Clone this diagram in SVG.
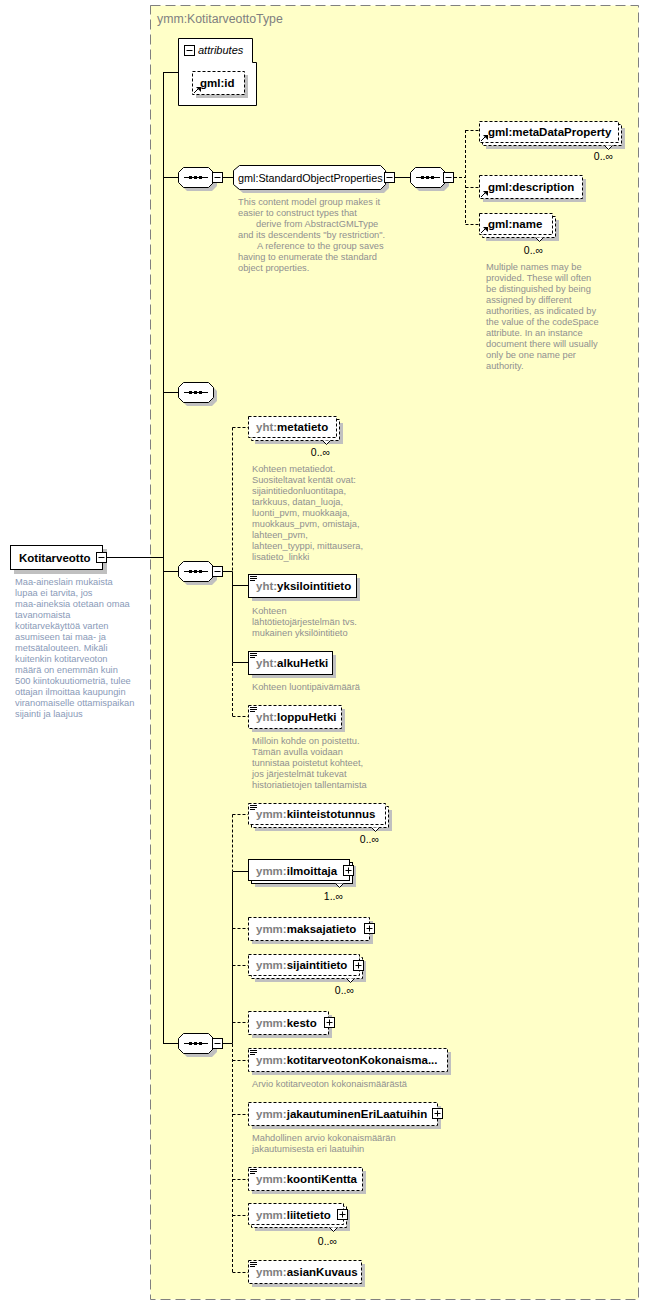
<svg xmlns="http://www.w3.org/2000/svg" xmlns:xlink="http://www.w3.org/1999/xlink" width="649" height="1306" viewBox="0 0 649 1306">
<style>
.bx{fill:#fff;stroke:#000;stroke-width:1}
.db{fill:#fff;stroke:#000;stroke-width:1;stroke-dasharray:3,2}
.sh{fill:#c0c0c0;stroke:none}
.ln{stroke:#000;stroke-width:1;fill:none}
.dl{stroke:#000;stroke-width:1;fill:none;stroke-dasharray:3,2}
.nm{font-family:"Liberation Sans",Arial,sans-serif;font-size:11.5px;font-weight:bold;fill:#000}
.pf{fill:#808080}
.ds{font-family:"Liberation Sans",Arial,sans-serif;font-size:9.3px;fill:#909090}
.dsl{font-family:"Liberation Sans",Arial,sans-serif;font-size:9.3px;fill:#8a9ab8}
.oc{font-family:"Liberation Sans",Arial,sans-serif;font-size:10.5px;fill:#000}
.ttl{font-family:"Liberation Sans",Arial,sans-serif;font-size:12.3px;fill:#808080}
</style>
<defs>
<g id="seq">
<polygon class="sh" points="9,4 34,4 39,9 39,19 34,24 9,24 4,19 4,9"/>
<polygon class="bx" points="5.5,0.5 30.5,0.5 35.5,5.5 35.5,15.5 30.5,20.5 5.5,20.5 0.5,15.5 0.5,5.5"/>
<path class="ln" d="M6,10.5 H30"/>
<rect x="11" y="9" width="3" height="3" fill="#000"/>
<rect x="16" y="9" width="3" height="3" fill="#000"/>
<rect x="21" y="9" width="3" height="3" fill="#000"/>
</g>
<g id="minus">
<rect class="bx" x="0.5" y="0.5" width="10" height="10"/>
<path class="ln" d="M2.5,5.5 H8.5"/>
</g>
<g id="plus">
<rect class="bx" x="0.5" y="0.5" width="10" height="10"/>
<path class="ln" d="M2.5,5.5 H8.5 M5.5,2.5 V8.5"/>
</g>
<g id="refarrow">
<path class="ln" d="M1,8 L5,4" stroke-width="1.3"/>
<path d="M3,2 H8 V7 Z" fill="#000"/>
</g>
<g id="simple">
<path class="ln" d="M0,0.5 H7 M0,2.5 H7 M0,4.5 H5"/>
</g>
</defs>

<rect id="container" x="150.5" y="5.5" width="488" height="1294" fill="#ffffc8" stroke="#808080" stroke-width="1" stroke-dasharray="10,5"/>
<text class="ttl" x="157" y="23">ymm:KotitarveottoType</text>

<g id="connectors">
<path class="ln" d="M163.5,72 V1043.5 M163,72.5 H178 M107,557.5 H163 M163,177.5 H178 M163,392.5 H178 M163,571.5 H178 M163,1043.5 H178"/>
<path class="ln" d="M223,177.5 H233 M395,177.5 H410"/>
<path class="dl" d="M454,177.5 H465.5 M465.5,130 V224.5 M465.5,130.5 H479 M465.5,187.5 H479 M465.5,224.5 H479"/>
<path class="ln" d="M223,571.5 H232.5 M232.5,571.5 V662.5 M232.5,585.5 H248 M232.5,662.5 H248"/>
<path class="dl" d="M232.5,427.5 V571 M232.5,427.5 H248 M232.5,663 V716.5 M232.5,716.5 H248"/>
<path class="ln" d="M223,1043.5 H232.5 M232.5,871.5 V1043.5 M232.5,871.5 H248"/>
<path class="dl" d="M232.5,814.5 V871 M232.5,814.5 H248 M232.5,1044 V1272.5 M232.5,928.5 H248 M232.5,965.5 H248 M232.5,1022.5 H248 M232.5,1060.5 H248 M232.5,1114.5 H248 M232.5,1179.5 H248 M232.5,1215.5 H248 M232.5,1272.5 H248"/>
</g>

<g id="kotitarveotto">
<rect class="sh" x="14" y="549" width="93" height="25"/>
<rect class="bx" x="10.5" y="545.5" width="92" height="24"/>
<text class="nm" x="19" y="562" font-size="12.3px">Kotitarveotto</text>
<use xlink:href="#minus" x="96" y="552"/>
<text class="dsl">
<tspan x="15" y="585">Maa-aineslain mukaista</tspan>
<tspan x="15" y="596">lupaa ei tarvita, jos</tspan>
<tspan x="15" y="607">maa-aineksia otetaan omaa</tspan>
<tspan x="15" y="618">tavanomaista</tspan>
<tspan x="15" y="629">kotitarvekäyttöä varten</tspan>
<tspan x="15" y="640">asumiseen tai maa- ja</tspan>
<tspan x="15" y="651">metsätalouteen. Mikäli</tspan>
<tspan x="15" y="662">kuitenkin kotitarveoton</tspan>
<tspan x="15" y="673">määrä on enemmän kuin</tspan>
<tspan x="15" y="684">500 kiintokuutiometriä, tulee</tspan>
<tspan x="15" y="695">ottajan ilmoittaa kaupungin</tspan>
<tspan x="15" y="706">viranomaiselle ottamispaikan</tspan>
<tspan x="15" y="717">sijainti ja laajuus</tspan>
</text>
</g>

<g id="attributes">
<path class="bx" d="M178.5,38.5 H252.5 V62.5 H256.5 V105.5 H178.5 Z"/>
<use xlink:href="#minus" x="184" y="45"/>
<text x="198" y="54" font-family="'Liberation Sans',Arial,sans-serif" font-size="11px" font-style="italic">attributes</text>
</g>
<g id="gml-id">
<rect class="sh" x="196" y="75" width="52" height="23"/>
<rect class="db" x="192.5" y="71.5" width="52" height="23"/>
<use xlink:href="#refarrow" x="193" y="85"/>
<text class="nm" x="200" y="87">gml:id</text>
</g>

<g id="seq1">
<use xlink:href="#seq" x="178" y="167"/>
<use xlink:href="#minus" x="212" y="172"/>
</g>
<g id="standardObjectProperties">
<polygon class="sh" points="243,169 384,169 389,174 389,188 384,193 243,193 237,188 237,174"/>
<polygon class="bx" points="239.5,165.5 380.5,165.5 385.5,170.5 385.5,184.5 380.5,189.5 239.5,189.5 233.5,184.5 233.5,170.5"/>
<text x="238" y="182" font-family="'Liberation Sans',Arial,sans-serif" font-size="10.8px">gml:StandardObjectProperties</text>
<use xlink:href="#minus" x="384" y="172"/>
<text class="ds">
<tspan x="238" y="205">This content model group makes it</tspan>
<tspan x="238" y="216">easier to construct types that</tspan>
<tspan x="256" y="227">derive from AbstractGMLType</tspan>
<tspan x="238" y="238">and its descendents "by restriction".</tspan>
<tspan x="257" y="249">A reference to the group saves</tspan>
<tspan x="238" y="260">having to enumerate the standard</tspan>
<tspan x="238" y="271">object properties.</tspan>
</text>
</g>
<g id="seq2">
<use xlink:href="#seq" x="410" y="167"/>
<use xlink:href="#minus" x="443" y="172"/>
</g>
<g id="gml-metaDataProperty">
<rect class="sh" x="486" y="128" width="139" height="21"/>
<rect class="db" x="482.5" y="124.5" width="139" height="21"/>
<rect class="db" x="479.5" y="121.5" width="139" height="21"/>
<path class="bx" d="M604.5,145.5 L608.5,149.5 L612.5,145.5"/>
<use xlink:href="#refarrow" x="480" y="133"/>
<text class="nm" x="488" y="136">gml:metaDataProperty</text>
<text class="oc" x="613" y="160" text-anchor="end">0..∞</text>
</g>
<g id="gml-description">
<rect class="sh" x="483" y="179" width="103" height="23"/>
<rect class="db" x="479.5" y="175.5" width="103" height="23"/>
<use xlink:href="#refarrow" x="480" y="189"/>
<text class="nm" x="488" y="191">gml:description</text>
</g>
<g id="gml-name">
<rect class="sh" x="486" y="220" width="73" height="21"/>
<rect class="db" x="482.5" y="216.5" width="73" height="21"/>
<rect class="db" x="479.5" y="213.5" width="73" height="21"/>
<path class="bx" d="M535.5,237.5 L539.5,241.5 L543.5,237.5"/>
<use xlink:href="#refarrow" x="480" y="225"/>
<text class="nm" x="488" y="228">gml:name</text>
<text class="oc" x="543" y="254" text-anchor="end">0..∞</text>
<text class="ds">
<tspan x="486" y="270">Multiple names may be</tspan>
<tspan x="486" y="281">provided.  These will often</tspan>
<tspan x="486" y="292">be distinguished by being</tspan>
<tspan x="486" y="303">assigned by different</tspan>
<tspan x="486" y="314">authorities, as indicated by</tspan>
<tspan x="486" y="325">the value of the codeSpace</tspan>
<tspan x="486" y="336">attribute.  In an instance</tspan>
<tspan x="486" y="347">document there will usually</tspan>
<tspan x="486" y="358">only be one name per</tspan>
<tspan x="486" y="369">authority.</tspan>
</text>
</g>

<g id="seq3">
<use xlink:href="#seq" x="178" y="382"/>
</g>

<g id="seq4">
<use xlink:href="#seq" x="178" y="561"/>
<use xlink:href="#minus" x="212" y="566"/>
</g>
<g id="yht-metatieto">
<rect class="sh" x="255" y="423" width="88" height="21"/>
<rect class="db" x="251.5" y="419.5" width="88" height="21"/>
<rect class="db" x="248.5" y="416.5" width="88" height="21"/>
<path class="bx" d="M322.5,440.5 L326.5,444.5 L330.5,440.5"/>
<text class="nm" x="256" y="431"><tspan class="pf">yht:</tspan>metatieto</text>
<text class="oc" x="330" y="456" text-anchor="end">0..∞</text>
<text class="ds">
<tspan x="252" y="472">Kohteen metatiedot.</tspan>
<tspan x="252" y="483">Suositeltavat kentät ovat:</tspan>
<tspan x="252" y="494">sijaintitiedonluontitapa,</tspan>
<tspan x="252" y="505">tarkkuus, datan_luoja,</tspan>
<tspan x="252" y="516">luonti_pvm, muokkaaja,</tspan>
<tspan x="252" y="527">muokkaus_pvm, omistaja,</tspan>
<tspan x="252" y="538">lahteen_pvm,</tspan>
<tspan x="252" y="549">lahteen_tyyppi, mittausera,</tspan>
<tspan x="252" y="560">lisatieto_linkki</tspan>
</text>
</g>
<g id="yht-yksilointitieto">
<rect class="sh" x="252" y="578" width="108" height="23"/>
<rect class="bx" x="248.5" y="574.5" width="108" height="23"/>
<use xlink:href="#simple" x="250" y="576"/>
<text class="nm" x="256" y="590"><tspan class="pf">yht:</tspan>yksilointitieto</text>
<text class="ds">
<tspan x="252" y="614">Kohteen</tspan>
<tspan x="252" y="625">lähtötietojärjestelmän  tvs.</tspan>
<tspan x="252" y="636">mukainen yksilöintitieto</tspan>
</text>
</g>
<g id="yht-alkuHetki">
<rect class="sh" x="252" y="655" width="84" height="23"/>
<rect class="bx" x="248.5" y="651.5" width="84" height="23"/>
<use xlink:href="#simple" x="250" y="653"/>
<text class="nm" x="256" y="667"><tspan class="pf">yht:</tspan>alkuHetki</text>
<text class="ds" x="252" y="690">Kohteen luontipäivämäärä</text>
</g>
<g id="yht-loppuHetki">
<rect class="sh" x="252" y="709" width="93" height="23"/>
<rect class="db" x="248.5" y="705.5" width="93" height="23"/>
<use xlink:href="#simple" x="250" y="707"/>
<text class="nm" x="256" y="721"><tspan class="pf">yht:</tspan>loppuHetki</text>
<text class="ds">
<tspan x="252" y="744">Milloin kohde on poistettu.</tspan>
<tspan x="252" y="755">Tämän avulla voidaan</tspan>
<tspan x="252" y="766">tunnistaa poistetut kohteet,</tspan>
<tspan x="252" y="777">jos järjestelmät tukevat</tspan>
<tspan x="252" y="788">historiatietojen tallentamista</tspan>
</text>
</g>

<g id="seq5">
<use xlink:href="#seq" x="178" y="1033"/>
<use xlink:href="#minus" x="212" y="1038"/>
</g>
<g id="ymm-kiinteistotunnus">
<rect class="sh" x="255" y="810" width="137" height="21"/>
<rect class="db" x="251.5" y="806.5" width="137" height="21"/>
<rect class="db" x="248.5" y="803.5" width="137" height="21"/>
<path class="bx" d="M371.5,827.5 L375.5,831.5 L379.5,827.5"/>
<use xlink:href="#simple" x="250" y="805"/>
<text class="nm" x="256" y="818"><tspan class="pf">ymm:</tspan>kiinteistotunnus</text>
<text class="oc" x="379" y="843" text-anchor="end">0..∞</text>
</g>
<g id="ymm-ilmoittaja">
<rect class="sh" x="255" y="866" width="101" height="21"/>
<rect class="bx" x="251.5" y="862.5" width="101" height="21"/>
<rect class="bx" x="248.5" y="859.5" width="101" height="21"/>
<path class="bx" d="M335.5,883.5 L339.5,887.5 L343.5,883.5"/>
<use xlink:href="#plus" x="343" y="865"/>
<text class="nm" x="256" y="875"><tspan class="pf">ymm:</tspan>ilmoittaja</text>
<text class="oc" x="343" y="900" text-anchor="end">1..∞</text>
</g>
<g id="ymm-maksajatieto">
<rect class="sh" x="252" y="921" width="121" height="23"/>
<rect class="db" x="248.5" y="917.5" width="121" height="23"/>
<use xlink:href="#plus" x="364" y="923"/>
<text class="nm" x="256" y="933"><tspan class="pf">ymm:</tspan>maksajatieto</text>
</g>
<g id="ymm-sijaintitieto">
<rect class="sh" x="255" y="961" width="111" height="21"/>
<rect class="db" x="251.5" y="957.5" width="111" height="21"/>
<rect class="db" x="248.5" y="954.5" width="111" height="21"/>
<path class="bx" d="M346.5,978.5 L350.5,982.5 L354.5,978.5"/>
<use xlink:href="#plus" x="353" y="960"/>
<text class="nm" x="256" y="969"><tspan class="pf">ymm:</tspan>sijaintitieto</text>
<text class="oc" x="354" y="994" text-anchor="end">0..∞</text>
</g>
<g id="ymm-kesto">
<rect class="sh" x="252" y="1015" width="80" height="23"/>
<rect class="db" x="248.5" y="1011.5" width="80" height="23"/>
<use xlink:href="#plus" x="324" y="1017"/>
<text class="nm" x="256" y="1027"><tspan class="pf">ymm:</tspan>kesto</text>
</g>
<g id="ymm-kotitarveotonKokonaismaara">
<rect class="sh" x="252" y="1052" width="199" height="23"/>
<rect class="db" x="248.5" y="1048.5" width="199" height="23"/>
<use xlink:href="#simple" x="250" y="1050"/>
<text class="nm" x="256" y="1064"><tspan class="pf">ymm:</tspan>kotitarveotonKokonaisma...</text>
<text class="ds" x="252" y="1087">Arvio kotitarveoton kokonaismäärästä</text>
</g>
<g id="ymm-jakautuminenEriLaatuihin">
<rect class="sh" x="252" y="1106" width="189" height="23"/>
<rect class="db" x="248.5" y="1102.5" width="189" height="23"/>
<use xlink:href="#plus" x="432" y="1108"/>
<text class="nm" x="256" y="1118"><tspan class="pf">ymm:</tspan>jakautuminenEriLaatuihin</text>
<text class="ds">
<tspan x="252" y="1141">Mahdollinen arvio kokonaismäärän</tspan>
<tspan x="252" y="1152">jakautumisesta eri laatuihin</tspan>
</text>
</g>
<g id="ymm-koontiKentta">
<rect class="sh" x="252" y="1171" width="114" height="23"/>
<rect class="db" x="248.5" y="1167.5" width="114" height="23"/>
<use xlink:href="#simple" x="250" y="1169"/>
<text class="nm" x="256" y="1183"><tspan class="pf">ymm:</tspan>koontiKentta</text>
</g>
<g id="ymm-liitetieto">
<rect class="sh" x="255" y="1210" width="95" height="21"/>
<rect class="db" x="251.5" y="1206.5" width="95" height="21"/>
<rect class="db" x="248.5" y="1203.5" width="95" height="21"/>
<path class="bx" d="M329.5,1227.5 L333.5,1231.5 L337.5,1227.5"/>
<use xlink:href="#plus" x="337" y="1209"/>
<text class="nm" x="256" y="1219"><tspan class="pf">ymm:</tspan>liitetieto</text>
<text class="oc" x="337" y="1245" text-anchor="end">0..∞</text>
</g>
<g id="ymm-asianKuvaus">
<rect class="sh" x="252" y="1264" width="113" height="23"/>
<rect class="db" x="248.5" y="1260.5" width="113" height="23"/>
<use xlink:href="#simple" x="250" y="1262"/>
<text class="nm" x="256" y="1276"><tspan class="pf">ymm:</tspan>asianKuvaus</text>
</g>
</svg>
